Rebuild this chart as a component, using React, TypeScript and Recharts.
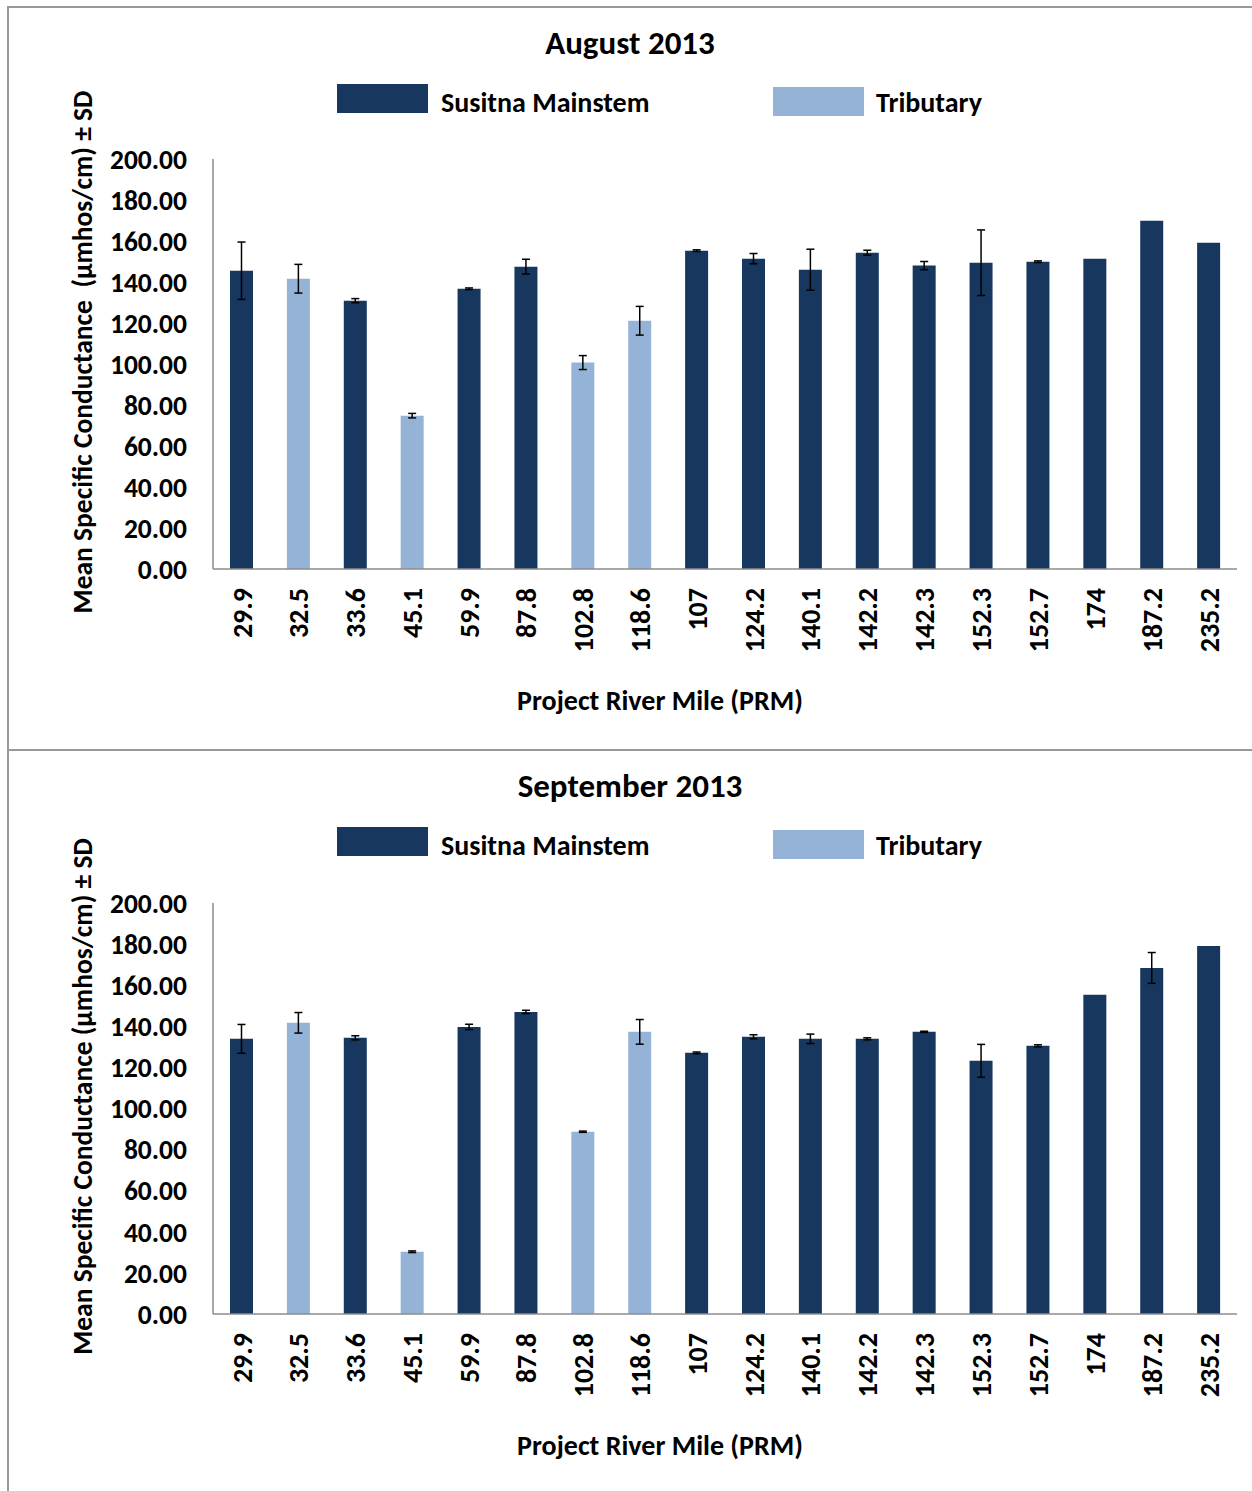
import { BarChart, Bar, XAxis, YAxis, Cell, ErrorBar, Legend, Label } from "recharts";

const prmLabels = [
  "29.9", "32.5", "33.6", "45.1", "59.9", "87.8", "102.8", "118.6", "107",
  "124.2", "140.1", "142.2", "142.3", "152.3", "152.7", "174", "187.2", "235.2",
];
const siteTypes = [
  "main", "trib", "main", "trib", "main", "main", "trib", "trib", "main",
  "main", "main", "main", "main", "main", "main", "main", "main", "main",
];

const augustMean = [145.5, 141.6, 130.9, 74.8, 136.7, 147.5, 100.7, 121.1, 155.3, 151.4, 146.0, 154.3, 148.0, 149.4, 149.9, 151.4, 169.9, 159.2];
const augustSD = [14, 7, 1, 1.1, 0.4, 3.6, 3.4, 7, 0.4, 2.5, 10, 1.2, 2, 16, 0.4, null, null, null];

const septemberMean = [133.9, 141.7, 134.4, 30.3, 139.7, 147.0, 88.7, 137.3, 127.1, 134.9, 133.9, 133.9, 137.3, 123.2, 130.5, 155.3, 168.4, 179.1];
const septemberSD = [7, 5, 1, 0.4, 1.3, 0.8, 0.3, 6, 0.4, 1, 2.3, 0.5, 0.3, 8, 0.5, null, 7.5, null];

const yTicks = [0, 20, 40, 60, 80, 100, 120, 140, 160, 180, 200];

const legendItems = [
  { key: "main", name: "Susitna Mainstem", color: "#17375E" },
  { key: "trib", name: "Tributary", color: "#95B3D7" },
];

const FONT = "Carlito, Calibri, Lato, sans-serif";
const AXIS_GRAY = "#8c8c8c";

const colorFor = (type: string) => legendItems.find((l) => l.key === type)?.color ?? "#000";

function buildRows(mean: number[], sd: (number | null)[]) {
  return prmLabels.map((prm, i) => ({ prm, type: siteTypes[i], mean: mean[i], sd: sd[i] }));
}

const PrmTick = (props: any) => {
  const { x, y, payload } = props;
  return (
    <text
      x={x}
      y={y}
      transform={`rotate(-90, ${x}, ${y})`}
      textAnchor="end"
      dy="0.36em"
      fontFamily={FONT}
      fontWeight="bold"
      fontSize={28}
      fill="#000"
    >
      {payload.value}
    </text>
  );
};

const LegendRow = () => (
  <div style={{ position: "relative", width: 1252, height: 40, fontFamily: FONT, fontWeight: "bold", fontSize: 28 }}>
    <div style={{ position: "absolute", left: 337, top: 4, width: 91, height: 29, background: legendItems[0].color }} />
    <div style={{ position: "absolute", left: 441, top: 6, lineHeight: "34px", whiteSpace: "nowrap" }}>{legendItems[0].name}</div>
    <div style={{ position: "absolute", left: 773, top: 7, width: 91, height: 29, background: legendItems[1].color }} />
    <div style={{ position: "absolute", left: 876, top: 6, lineHeight: "34px", whiteSpace: "nowrap" }}>{legendItems[1].name}</div>
  </div>
);

interface PanelProps {
  title: string
  yTitle: string
  mean: number[]
  sd: (number | null)[]
  plotTop: number
  plotBottom: number
}

const CHART_W = 1252;
const CHART_H = 742;

const ConductancePanel = ({ title, yTitle, mean, sd, plotTop, plotBottom }: PanelProps) => {
  const rows = buildRows(mean, sd);
  const yMid = (plotTop + plotBottom) / 2 - 12;
  return (
    <div style={{ position: "relative", width: CHART_W, height: CHART_H }}>
      <div
        style={{
          position: "absolute", left: 0, top: 23, width: 1260, textAlign: "center",
          fontFamily: FONT, fontWeight: "bold", fontSize: 33, lineHeight: "40px",
        }}
      >
        {title}
      </div>
      <BarChart
        width={CHART_W}
        height={CHART_H}
        data={rows}
        margin={{ top: plotTop, right: 15, left: 0, bottom: 0 }}
        barSize={23}
      >
        <Legend
          layout="horizontal"
          verticalAlign="middle"
          align="center"
          wrapperStyle={{ top: 80, left: 0, width: CHART_W }}
          content={() => <LegendRow />}
        />
        <XAxis
          dataKey="prm"
          interval={0}
          height={CHART_H - plotBottom}
          tickLine={false}
          tickSize={0}
          tickMargin={19}
          tick={<PrmTick />}
          axisLine={{ stroke: AXIS_GRAY, strokeWidth: 1.5 }}
        >
          <Label
            content={() => (
              <text x={660} y={plotBottom + 131} textAnchor="middle" dominantBaseline="central"
                fontFamily={FONT} fontWeight="bold" fontSize={28} fill="#000">
                Project River Mile (PRM)
              </text>
            )}
          />
        </XAxis>
        <YAxis
          width={213}
          domain={[0, 200]}
          ticks={yTicks}
          interval={0}
          tickLine={false}
          tickSize={0}
          tickMargin={26}
          tickFormatter={(v: number) => v.toFixed(2)}
          tick={{ fontFamily: FONT, fontWeight: "bold", fontSize: 27.5, fill: "#000" }}
          axisLine={{ stroke: AXIS_GRAY, strokeWidth: 1.5 }}
        >
          <Label
            content={() => (
              <text x={82} y={yMid} transform={`rotate(-90, 82, ${yMid})`}
                textAnchor="middle" dominantBaseline="central" fontFamily={FONT} fontWeight="bold" fontSize={27.5}
                fill="#000" style={{ whiteSpace: "pre" }}>
                {yTitle}
              </text>
            )}
          />
        </YAxis>
        <Bar dataKey="mean" isAnimationActive={false}>
          {rows.map((r) => (
            <Cell key={r.prm} fill={colorFor(r.type)} />
          ))}
          <ErrorBar dataKey="sd" width={4} stroke="#000" strokeWidth={1.5} />
        </Bar>
      </BarChart>
    </div>
  );
};

export default function App() {
  return (
    <div style={{ position: "absolute", left: 0, top: 0, width: 1252, height: 1491, overflow: "hidden", background: "#fff" }}>
      <div style={{ position: "absolute", left: 7, top: 6, width: 1300, height: 743, borderTop: "2px solid #999", borderLeft: "2px solid #999" }} />
      <div style={{ position: "absolute", left: 7, top: 749, width: 1300, height: 800, borderTop: "2px solid #999", borderLeft: "2px solid #999" }} />
      <div style={{ position: "absolute", left: 0, top: 0 }}>
        <ConductancePanel
          title="August 2013"
          yTitle="Mean Specific Conductance  (µmhos/cm) ± SD"
          mean={augustMean}
          sd={augustSD}
          plotTop={159}
          plotBottom={569}
        />
      </div>
      <div style={{ position: "absolute", left: 0, top: 743 }}>
        <ConductancePanel
          title="September 2013"
          yTitle="Mean Specific Conductance (µmhos/cm) ± SD"
          mean={septemberMean}
          sd={septemberSD}
          plotTop={160}
          plotBottom={571}
        />
      </div>
    </div>
  );
}
